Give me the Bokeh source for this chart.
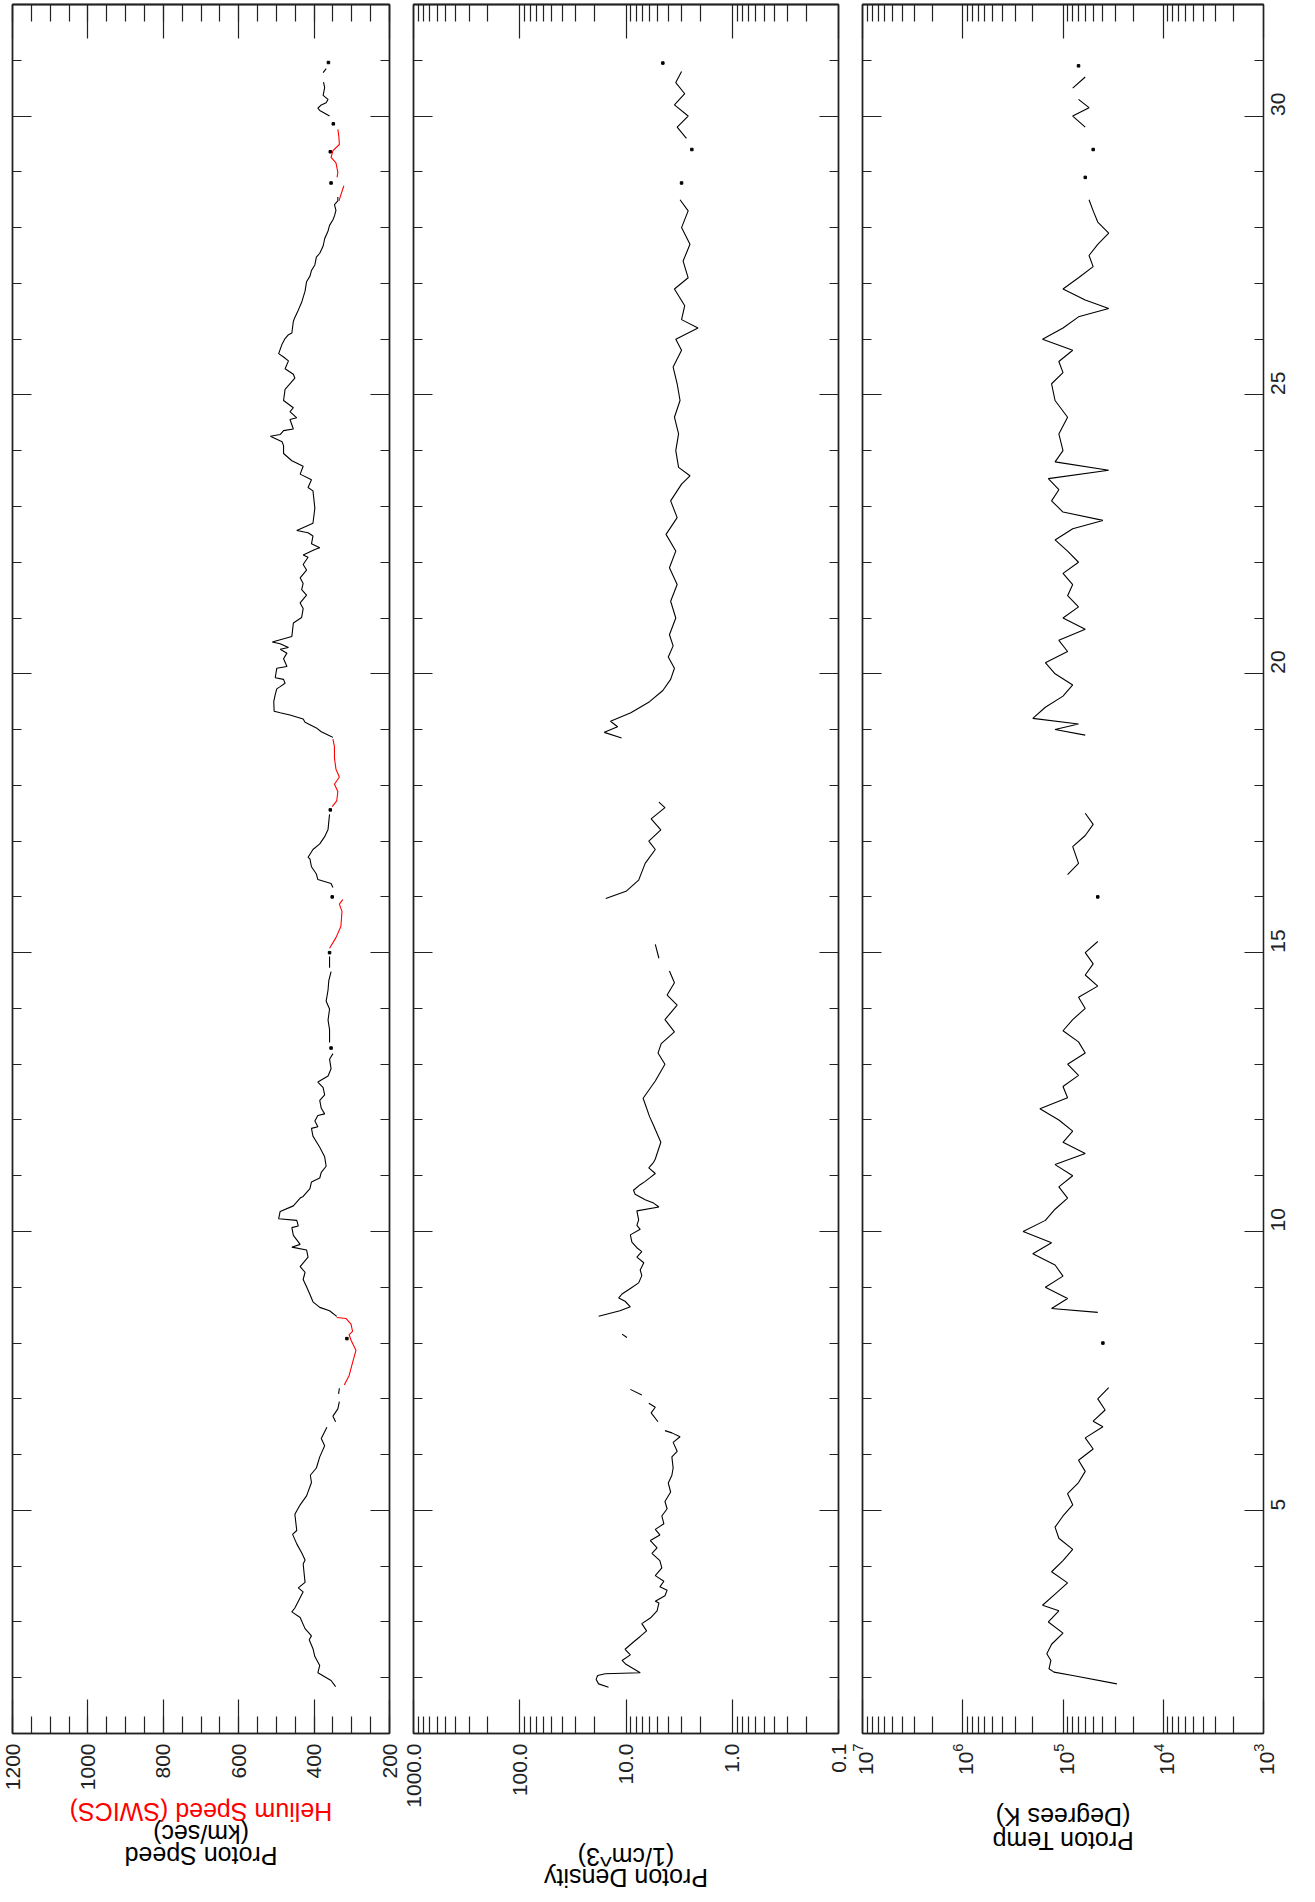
import numpy as np
from bokeh.plotting import figure
from bokeh.models import Range1d, FixedTicker, LinearAxis, LogAxis
from bokeh.core.properties import value
from bokeh.layouts import row, column
from bokeh.embed import file_html
from bokeh.resources import INLINE

N = None

# ---------------- data (day of month, value); None = data gap ----------------
speed_day = [1.84, 1.95, 2.09, 2.22, 2.38, 2.52, 2.68, 2.75, 2.88, 3.08, 3.18, 3.25, 3.54, 3.61, 3.71,
             4.04, 4.11, 4.24, 4.40, 4.57, 4.64, 4.93, 5.10, 5.26, 5.50, 5.63, 5.76, 5.96, 6.16, 6.29, 6.49, N,
             6.59, 6.69, 6.82, 6.95, N, 7.09, 7.19, N, 8.08, N,
             8.48, 8.58, 8.64, 8.74, 8.87, 9.01, 9.14, 9.27, 9.37, 9.54, 9.67, 9.72, 9.77, 9.93, 10.07, 10.10,
             10.20, 10.23, 10.36, 10.46, 10.60, 10.63, 10.77, 10.89, 10.96, 11.06, 11.17, 11.34, 11.51, 11.61,
             11.71, 11.85, 11.88, 11.98, 12.08, 12.11, 12.21, 12.35, 12.45, 12.58, 12.68, 12.79, 12.92, 13.09,
             13.19, N, 13.29, N, 13.39, 13.62, 13.79, 13.99, 14.13, 14.33, 14.50, 14.66, N, 14.73, 14.93, N,
             15.00, N, 16.00, N,
             16.17, 16.24, 16.31, 16.41, 16.54, 16.68, 16.71, 16.85, 16.95, 17.08, 17.21, 17.35, 17.48, N,
             17.56, N,
             18.86, 18.89, 18.96, 19.03, 19.13, 19.19, 19.26, 19.30, 19.33, 19.50, 19.63, 19.73, 19.77, 19.83,
             19.90, 19.93, 20.10, 20.13, 20.27, 20.37, 20.44, 20.47, 20.54, 20.57, 20.67, 20.91, 21.01, 21.17,
             21.27, 21.41, 21.51, 21.62, 21.72, 21.86, 21.96, 22.09, 22.13, 22.23, 22.26, 22.33, 22.47, 22.53,
             22.57, 22.70, 22.97, 23.28, 23.34, 23.48, 23.58, 23.72, 23.82, 23.95, 24.09, 24.16, 24.26, 24.29,
             24.36, 24.39, 24.56, 24.59, 24.70, 24.77, 24.90, 25.10, 25.30, 25.37, 25.47, 25.61, 25.68, 25.74,
             25.91, 26.01, 26.08, 26.11, 26.32, 26.39, 26.52, 26.66, 26.86, 27.03, 27.13, 27.23, 27.33, 27.47,
             27.54, 27.67, 27.80, 27.94, 28.04, 28.14, 28.21, 28.31, 28.41, 28.48, 28.55, N,
             28.80, N, 29.36, N, 29.86, N,
             30.00, 30.10, 30.14, 30.20, 30.24, 30.30, 30.37, 30.51, 30.61, N, 30.78, 30.85, N, 30.96]
speed_kms = [343, 355, 390, 385, 398, 403, 413, 407, 424, 437, 459, 451, 429, 442, 424,
             429, 424, 433, 446, 457, 446, 451, 437, 420, 407, 410, 394, 385, 372, 381, 366, N,
             343, 350, 337, 333, N, 335, 333, N, 313, N,
             340, 359, 385, 403, 411, 420, 429, 424, 437, 416, 420, 459, 437, 455, 459, 442,
             446, 494, 490, 455, 437, 429, 411, 407, 385, 381, 368, 372, 385, 394,
             403, 407, 390, 398, 390, 372, 381, 385, 372, 376, 390, 363, 355, 359,
             350, N, 355, N, 359, 359, 363, 359, 368, 363, 361, 355, N, 359, 359, N,
             359, N, 352, N,
             350, 355, 390, 394, 407, 411, 416, 403, 385, 372, 363, 361, 359, N,
             357, N,
             350, 359, 381, 394, 424, 429, 464, 490, 506, 507, 503, 499, 490, 477,
             481, 503, 499, 472, 481, 472, 490, 468, 490, 511, 459, 455, 433, 429,
             437, 420, 433, 429, 437, 420, 429, 416, 429, 398, 385, 407, 403, 416,
             446, 403, 398, 403, 416, 407, 437, 429, 459, 481, 481, 485, 516, 490,
             481, 455, 464, 446, 464, 455, 481, 477, 451, 455, 477, 468, 481, 494,
             485, 477, 468, 459, 455, 451, 442, 433, 424, 420, 411, 407, 398, 394,
             385, 376, 372, 363, 359, 350, 346, 342, 346, 337, 337, N,
             355, N, 357, N, 349, N,
             359, 385, 390, 381, 368, 363, 376, 372, 375, N, 376, 368, N, 362]

helium_day = [7.25, 7.42, 7.65, 7.87, 8.05, 8.15, 8.21, 8.34, 8.44, 8.46, N,
              15.08, 15.27, 15.47, 15.74, 15.87, 15.95, N,
              17.62, 17.72, 17.89, 18.02, 18.15, 18.29, 18.49, 18.69, 18.83, N,
              28.48, 28.61, 28.75, N,
              28.90, 28.99, 29.16, 29.26, 29.38, 29.49, 29.61, 29.76]
helium_kms = [320, 307, 298, 289, 302, 307, 298, 302, 315, 340, N,
              359, 342, 329, 326, 333, 324, N,
              352, 340, 337, 346, 333, 342, 346, 346, 350, N,
              334, 328, 321, N,
              339, 337, 342, 355, 350, 333, 334, 337]

dens_day = [1.83, 1.89, 1.97, 2.04, 2.07, 2.09, 2.16, 2.24, 2.31, 2.41, 2.51, 2.64, 2.74, 2.84, 2.97,
            3.07, 3.20, 3.34, 3.37, 3.47, 3.57, 3.63, 3.73, 3.83, 3.97, 4.10, 4.23, 4.33, 4.46, 4.56,
            4.66, 4.76, 4.90, 5.03, 5.16, 5.33, 5.49, 5.63, 5.76, 5.96, 6.06, 6.22, 6.32, 6.39, 6.43, N,
            6.59, 6.75, 6.85, 6.92, N, 7.07, 7.17, N, 8.10, 8.16, N,
            8.48, 8.58, 8.65, 8.75, 8.81, 8.88, 8.98, 9.08, 9.21, 9.31, 9.44, 9.54, 9.64, 9.71, 9.81,
            9.94, 10.04, 10.11, 10.21, 10.37, 10.44, 10.51, 10.57, 10.67, 10.74, 10.84, 10.90, 10.97,
            11.04, 11.14, 11.24, 11.30, 11.60, 11.90, 12.06, 12.39, 12.70, 13.00, 13.20, 13.37, 13.58,
            13.80, 14.06, 14.24, 14.46, 14.67, N, 14.90, 15.15, N,
            15.97, 16.10, 16.30, 16.60, 16.85, 17.00, 17.20, 17.40, 17.60, 17.70, N,
            18.85, 18.95, 19.05, 19.15, 19.30, 19.50, 19.70, 19.90, 20.10, 20.30, 20.50, 20.70, 21.00,
            21.30, 21.60, 21.90, 22.20, 22.50, 22.80, 23.10, 23.40, 23.55, 23.70, 24.00, 24.30, 24.60,
            24.90, 25.20, 25.50, 25.80, 26.00, 26.20, 26.35, 26.60, 26.90, 27.10, 27.40, 27.70, 28.00,
            28.30, 28.50, N, 28.80, N, 29.40, N,
            29.60, 29.80, 30.00, 30.20, 30.40, 30.60, 30.80, N, 30.95]
dens_cm3 = [14.6, 18.1, 19.1, 18.5, 15.7, 7.35, 8.5, 10.0, 10.9, 9.1, 10.2, 8.5, 7.35, 6.4, 7.1,
            5.9, 5.1, 4.9, 5.3, 4.3, 4.1, 4.8, 4.4, 5.3, 4.6, 4.8, 5.7, 5.1, 5.9, 4.8,
            5.3, 4.4, 4.6, 4.1, 4.3, 3.8, 4.0, 3.7, 3.6, 3.7, 3.3, 3.6, 3.1, 3.7, 4.3, N,
            5.0, 5.8, 5.3, 6.1, N, 7.1, 9.1, N, 9.8, 10.9, N,
            18.1, 11.4, 9.1, 10.2, 11.7, 10.9, 9.1, 7.6, 7.1, 7.35, 6.8, 7.9, 7.1, 7.9, 8.8,
            9.1, 7.35, 7.9, 7.6, 7.9, 4.9, 5.5, 6.6, 8.2, 8.5, 7.35, 6.6, 5.9,
            5.3, 6.1, 5.5, 5.3, 4.7, 5.5, 6.0, 6.9, 5.3, 4.3, 5.0, 4.66, 3.5,
            4.3, 3.3, 4.1, 3.5, 3.9, N, 4.9, 5.3, N,
            15.5, 10.0, 7.6, 6.6, 5.3, 6.1, 4.7, 5.8, 4.3, 4.9, N,
            11.0, 16.0, 12.0, 14.0, 9.0, 6.0, 4.5, 3.8, 3.5, 4.0, 3.6, 3.9, 3.4,
            3.8, 3.3, 3.9, 3.4, 4.2, 3.3, 3.8, 3.0, 2.5, 3.2, 3.4, 3.2, 3.5,
            3.1, 3.3, 3.6, 3.0, 3.4, 2.1, 3.0, 2.8, 3.5, 2.6, 2.9, 2.5, 3.0,
            2.6, 3.1, N, 3.0, N, 2.4, N,
            2.7, 3.3, 2.6, 3.5, 2.8, 3.4, 3.0, N, 4.5]

temp_day = [1.89, 2.04, 2.10, 2.16, 2.31, 2.43, 2.60, 2.80, 3.00, 3.20, 3.30, 3.50, 3.70, 3.90, 4.10,
            4.30, 4.50, 4.70, 4.90, 5.10, 5.30, 5.50, 5.70, 5.90, 6.10, 6.30, 6.50, 6.60, 6.80, 7.00,
            7.20, N, 8.00, N,
            8.55, 8.62, 8.80, 9.00, 9.20, 9.40, 9.60, 9.80, 10.00, 10.20, 10.40, 10.60, 10.80, 11.00,
            11.20, 11.40, 11.60, 11.80, 12.00, 12.20, 12.40, 12.60, 12.80, 13.00, 13.20, 13.40, 13.60,
            13.80, 14.00, 14.20, 14.40, 14.60, 14.80, 15.00, 15.20, N, 16.00, N,
            16.40, 16.60, 16.90, 17.10, 17.30, 17.50, N,
            18.90, 19.00, 19.10, 19.20, 19.40, 19.60, 19.80, 20.00, 20.20, 20.40, 20.60, 20.80, 21.00,
            21.20, 21.40, 21.60, 21.80, 22.00, 22.20, 22.40, 22.60, 22.75, 22.90, 23.10, 23.30, 23.50,
            23.65, 23.80, 24.00, 24.30, 24.60, 24.90, 25.20, 25.40, 25.60, 25.80, 26.00, 26.20, 26.40,
            26.55, 26.70, 26.90, 27.10, 27.30, 27.50, 27.70, 27.90, 28.10, 28.30, 28.50, N,
            28.90, N, 29.40, N, 29.80, 30.00, 30.15, 30.30, N, 30.50, 30.70, N, 30.90]
temp_k = [2.9e4, 8.0e4, 1.23e5, 1.38e5, 1.32e5, 1.45e5, 1.3e5, 1.0e5, 1.4e5, 1.1e5, 1.6e5, 1.2e5, 0.9e5,
          1.3e5, 1.0e5, 0.8e5, 1.1e5, 1.2e5, 1.0e5, 0.8e5, 0.9e5, 0.7e5, 0.6e5, 0.7e5, 0.5e5, 0.6e5,
          0.4e5, 0.5e5, 0.38e5, 0.45e5, 0.35e5, N, 0.4e5, N,
          0.45e5, 1.3e5, 0.9e5, 1.5e5, 1.0e5, 1.2e5, 2.0e5, 1.3e5, 2.5e5, 1.5e5, 1.2e5, 0.9e5, 1.1e5,
          0.8e5, 1.2e5, 0.6e5, 1.0e5, 0.8e5, 1.1e5, 1.7e5, 0.9e5, 1.0e5, 0.7e5, 0.9e5, 0.6e5, 0.7e5,
          1.0e5, 0.8e5, 0.6e5, 0.7e5, 0.45e5, 0.6e5, 0.5e5, 0.6e5, 0.45e5, N, 0.45e5, N,
          0.9e5, 0.7e5, 0.8e5, 0.6e5, 0.5e5, 0.6e5, N,
          0.6e5, 1.2e5, 0.7e5, 2.0e5, 1.5e5, 1.0e5, 0.8e5, 1.2e5, 1.5e5, 0.9e5, 1.1e5, 0.6e5, 1.0e5,
          0.7e5, 0.9e5, 0.8e5, 1.0e5, 0.7e5, 0.9e5, 1.2e5, 0.8e5, 0.4e5, 1.0e5, 1.3e5, 1.1e5, 1.4e5,
          0.35e5, 1.2e5, 1.0e5, 1.1e5, 0.9e5, 1.2e5, 1.3e5, 1.0e5, 1.1e5, 0.8e5, 1.6e5, 1.0e5, 0.7e5,
          0.35e5, 0.6e5, 1.0e5, 0.7e5, 0.5e5, 0.55e5, 0.45e5, 0.35e5, 0.45e5, 0.5e5, 0.55e5, N,
          0.6e5, N, 0.5e5, N, 0.6e5, 0.8e5, 0.55e5, 0.7e5, N, 0.8e5, 0.6e5, N, 0.7e5]

speed_ticks = [200, 400, 600, 800, 1000, 1200]
speed_minor = list(range(200, 1201, 50))
dens_ticks = [0.1, 1.0, 10.0, 100.0, 1000.0]
dens_labels = ["0.1", "1.0", "10.0", "100.0", "1000.0"]
temp_ticks = [1e3, 1e4, 1e5, 1e6, 1e7]
day_ticks = [5, 10, 15, 20, 25, 30]
day_minor = list(range(1, 32))

speed_title = ["Helium Speed (SWICS)", "(km/sec)", "Proton Speed"]
dens_title = ["(1/cm^3)", "Proton Density"]
temp_title = ["(Degrees K)", "Proton Temp"]

# ---------------- styling ----------------
FONT = "Liberation Sans"
TICK_SIZE = "21px"
TITLE_SIZE = "25px"
FRAME_H = 1729
TOP = 4
AX = "#222222"


def arr(a):
    return np.array([np.nan if v is None else v for v in a], dtype=float)


def isolated(x, y):
    xi, yi = [], []
    n = len(x)
    for i in range(n):
        if np.isnan(x[i]):
            continue
        prev_gap = i == 0 or np.isnan(x[i - 1])
        next_gap = i == n - 1 or np.isnan(x[i + 1])
        if prev_gap and next_gap:
            xi.append(x[i]); yi.append(y[i])
    return xi, yi


def base_style(ax):
    ax.major_tick_out = 0
    ax.minor_tick_out = 0
    ax.axis_line_color = AX
    ax.major_tick_line_color = AX
    ax.minor_tick_line_color = AX
    ax.axis_line_width = 1.3
    ax.major_tick_line_width = 1.2
    ax.minor_tick_line_width = 1.2
    ax.axis_label = None
    ax.axis_label_standoff = 0


def labelled(ax, major_in, minor_in, standoff):
    base_style(ax)
    ax.major_tick_in = major_in
    ax.minor_tick_in = minor_in
    ax.major_label_text_font = FONT
    ax.major_label_text_font_size = TICK_SIZE
    ax.major_label_text_color = AX
    ax.major_label_orientation = np.pi / 2
    ax.major_label_standoff = standoff


def bare(ax, ticks, length):
    # an axis without labels: every tick is a "minor" tick of the given length
    base_style(ax)
    ax.ticker = FixedTicker(ticks=[], minor_ticks=ticks)
    ax.major_tick_in = 0
    ax.minor_tick_in = length
    ax.major_label_standoff = 0


def make_panel(x_range, x_type, frame_w, bl, br, bb, vticks, vminor, overrides, day_labels):
    p = figure(x_range=x_range, y_range=Range1d(1, 32), x_axis_type=x_type,
               frame_width=frame_w, frame_height=FRAME_H,
               min_border_left=bl, min_border_right=br, min_border_top=TOP, min_border_bottom=bb,
               toolbar_location=None, output_backend="svg",
               x_axis_location="below", y_axis_location="left")
    p.grid.visible = False
    p.outline_line_color = AX
    p.outline_line_width = 1.3
    Axis = LogAxis if x_type == "log" else LinearAxis
    bx = p.xaxis[0]
    bx.ticker = FixedTicker(ticks=vticks, minor_ticks=vminor)
    labelled(bx, 34, 17, 10)
    if overrides:
        bx.major_label_overrides = overrides
    a1 = Axis(); bare(a1, vminor, 17); p.add_layout(a1, "above")
    a2 = Axis(); bare(a2, vticks, 34); p.add_layout(a2, "above")
    bare(p.yaxis[0], day_minor, 9)
    l2 = LinearAxis(); bare(l2, day_ticks, 19); p.add_layout(l2, "left")
    if day_labels:
        ry = LinearAxis(ticker=FixedTicker(ticks=day_ticks, minor_ticks=day_minor))
        labelled(ry, 19, 9, 15)
        p.add_layout(ry, "right")
    else:
        r1 = LinearAxis(); bare(r1, day_minor, 9); p.add_layout(r1, "right")
        r2 = LinearAxis(); bare(r2, day_ticks, 19); p.add_layout(r2, "right")
    return p


def add_series(p, vals, days, color):
    v = arr(vals); d = arr(days)
    p.line(v, d, line_color=color, line_width=1.1)
    xi, yi = isolated(v, d)
    if xi:
        p.scatter(xi, yi, size=2.5, color=color, marker="square")


def title_strip(frame_w, bl, br, lines, ys, colors):
    t = figure(x_range=Range1d(0, frame_w), y_range=Range1d(80, 0),
               frame_width=frame_w, frame_height=80,
               min_border_left=bl, min_border_right=br, min_border_top=0, min_border_bottom=0,
               toolbar_location=None, output_backend="svg",
               x_axis_location=None, y_axis_location=None)
    t.grid.visible = False
    t.outline_line_color = None
    t.text(x=[frame_w / 2] * len(lines), y=ys, text=lines, angle=np.pi,
           text_align="center", text_baseline="middle",
           text_font=value(FONT), text_font_size=TITLE_SIZE, text_color=colors)
    return t


p1 = make_panel(Range1d(1200, 200), "linear", 377, 12, 12, 65,
                speed_ticks, speed_minor, None, False)
add_series(p1, speed_kms, speed_day, "black")
add_series(p1, helium_kms, helium_day, "#ff0000")
t1 = title_strip(377, 12, 12, speed_title, [13, 35, 57], ["#ff0000", "black", "black"])

dminor = [m * 10.0 ** e for e in range(-1, 3) for m in range(2, 10)]
p2 = make_panel(Range1d(1000, 0.1), "log", 425, 12, 12, 90,
                dens_ticks, dminor, dict(zip(dens_ticks, dens_labels)), False)
add_series(p2, dens_cm3, dens_day, "black")
t2 = title_strip(425, 12, 12, dens_title, [33, 54], ["black", "black"])

tminor = [m * 10.0 ** e for e in range(3, 7) for m in range(2, 10)]
p3 = make_panel(Range1d(1e7, 1e3), "log", 401, 12, 40, 65,
                temp_ticks, tminor, None, True)
add_series(p3, temp_k, temp_day, "black")
t3 = title_strip(401, 12, 40, temp_title, [18, 42], ["black", "black"])

layout = row(column(p1, t1), column(p2, t2), column(p3, t3))
open("out.html", "w").write(file_html(layout, INLINE))
